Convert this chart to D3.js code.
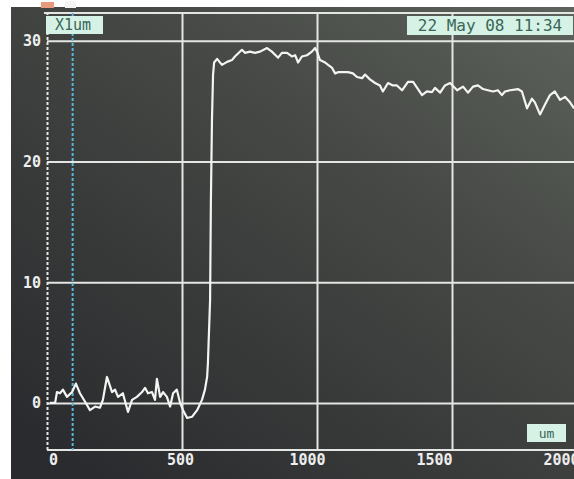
<!DOCTYPE html>
<html>
<head>
<meta charset="utf-8">
<script src="https://cdn.jsdelivr.net/npm/d3@7"></script>
<style>
  html, body { margin: 0; padding: 0; background: #ffffff; }
  svg { display: block; }
</style>
</head>
<body>
<svg id="chart" width="574" height="479"></svg>
<script>
// ---- data ----
const traceX = [11,30,37,48,59,74,93,107,122,141,159,178,196,207,222,241,252,263,281,300,315,333,352,363,374,389,400,407,419,430,444,456,467,481,493,504,519,537,556,574,585,593,596,604,607,611,615,619,630,648,667,685,696,722,733,752,770,789,815,833,856,870,889,907,919,930,944,963,981,993,1000,1011,1030,1041,1056,1067,1078,1096,1115,1133,1148,1167,1178,1196,1215,1233,1244,1263,1281,1296,1315,1337,1356,1389,1407,1426,1437,1456,1474,1493,1519,1541,1559,1578,1596,1615,1633,1652,1670,1685,1696,1715,1744,1759,1778,1796,1807,1826,1844,1863,1881,1900,1919,1937,1952];
const traceY = [0,0,0.9,0.8,1.1,0.5,0.9,1.6,0.8,0.1,-0.6,-0.3,-0.4,0.25,2.15,0.9,1.1,0.5,0.8,-0.75,0.25,0.5,0.9,1.25,0.8,0.9,0.25,2.0,0.5,0.9,0.5,-0.3,0.8,1.1,0,-0.6,-1.25,-1.15,-0.6,0.25,1.1,2.15,3.3,8.5,16.8,23.4,27.2,28.2,28.5,28.0,28.25,28.4,28.7,29.25,29.0,29.1,29.0,29.1,29.4,29.1,28.6,29.0,29.0,28.7,28.8,28.2,28.7,28.8,29.1,29.4,29.1,28.4,28.2,28.0,27.75,27.3,27.4,27.4,27.4,27.3,27.0,26.9,27.2,26.8,26.5,26.3,25.8,26.5,26.3,26.3,25.9,26.6,26.6,25.5,25.8,25.75,26.1,25.7,26.3,26.5,25.9,26.2,25.7,26.2,26.3,26.0,25.9,25.8,25.9,25.5,25.8,25.9,26.0,25.8,24.4,25.2,24.9,23.9,24.7,25.5,25.8,25.1,25.35,24.9,24.4];
const xTicks = [0, 500, 1000, 1500, 2000];
const yTicks = [0, 10, 20, 30];
const cursorX = 95;
const channelLabel = "X1um";
const dateLabel = "22 May 08 11:34";
const unitLabel = "um";

// ---- layout ----
const W = 574, H = 479;
const svg = d3.select("#chart");
const x = d3.scaleLinear().domain([0, 2000]).range([47, 587]);
const xl = d3.scaleLinear().domain([0, 2000]).range([53, 561]); // label positions (photo perspective)
const y = d3.scaleLinear().domain([-3.9, 32.3]).range([450, 13]);
const plotTop = y(32.3), plotBottom = y(-3.9);

// background (photo of a screen)
const defs = svg.append("defs");
const g = defs.append("linearGradient").attr("id", "bg")
  .attr("x1", "100%").attr("y1", "0%").attr("x2", "15%").attr("y2", "100%");
g.append("stop").attr("offset", "0%").attr("stop-color", "#5e635d");
g.append("stop").attr("offset", "35%").attr("stop-color", "#474a46");
g.append("stop").attr("offset", "100%").attr("stop-color", "#2a2b2e");

svg.append("rect").attr("width", W).attr("height", H).attr("fill", "#ffffff");
svg.append("rect").attr("x", 11).attr("y", 7).attr("width", W - 11).attr("height", H - 7).attr("fill", "url(#bg)");
// screen artefacts at top
svg.append("rect").attr("x", 41).attr("y", 2).attr("width", 13).attr("height", 6).attr("fill", "#e79a7c");
svg.append("rect").attr("x", 65).attr("y", 1).attr("width", 11).attr("height", 7).attr("fill", "#f4f4f4");

const gridColor = "#e4e6e4";

// top border
svg.append("line").attr("x1", 44).attr("x2", W).attr("y1", plotTop).attr("y2", plotTop)
  .attr("stroke", gridColor).attr("stroke-width", 2);

// y axis with gridlines
const yAxis = svg.append("g").attr("transform", `translate(${x(0)},0)`)
  .call(d3.axisLeft(y).tickValues(yTicks).tickSize(-(W - x(0))).tickPadding(6).tickFormat(d3.format("d")));
yAxis.select(".domain").remove();
yAxis.selectAll(".tick line").attr("stroke", gridColor).attr("stroke-width", 2);
yAxis.selectAll(".tick text")
  .attr("fill", "#eeeeee").attr("font-family", "DejaVu Sans Mono").attr("font-weight", "bold")
  .attr("font-size", 15);

// x axis with gridlines
const xAxis = svg.append("g").attr("transform", `translate(0,${plotBottom})`)
  .call(d3.axisBottom(x).tickValues(xTicks).tickSize(-(plotBottom - plotTop)).tickPadding(4).tickFormat(d3.format("d")));
xAxis.select(".domain").remove();
xAxis.selectAll(".tick line").attr("stroke", gridColor).attr("stroke-width", 2)
  .attr("stroke-dasharray", d => d === 0 ? "3,2" : null);
xAxis.selectAll(".tick text")
  .attr("x", d => xl(d) - x(d))
  .attr("fill", "#eeeeee").attr("font-family", "DejaVu Sans Mono").attr("font-weight", "bold")
  .attr("font-size", 15);
// bottom border
svg.append("line").attr("x1", x(0)).attr("x2", W).attr("y1", plotBottom).attr("y2", plotBottom)
  .attr("stroke", gridColor).attr("stroke-width", 2);

// cursor
svg.append("line").attr("x1", x(cursorX)).attr("x2", x(cursorX)).attr("y1", plotTop).attr("y2", plotBottom)
  .attr("stroke", "#5fb4dc").attr("stroke-width", 2).attr("stroke-dasharray", "3,2");

// trace
const pts = traceX.map((v, i) => [v, traceY[i]]);
svg.append("path").datum(pts)
  .attr("fill", "none").attr("stroke", "#f4f4f2").attr("stroke-width", 2.2).attr("stroke-linejoin", "round")
  .attr("d", d3.line().x(d => x(d[0])).y(d => y(d[1])));

// label boxes
function box(bx, by, bw, bh, text, size, anchor) {
  svg.append("rect").attr("x", bx).attr("y", by).attr("width", bw).attr("height", bh).attr("fill", "#d6f2e6");
  svg.append("text").attr("x", anchor === "middle" ? bx + bw / 2 : bx + 9).attr("y", by + bh / 2)
    .attr("dy", "0.36em").attr("text-anchor", anchor)
    .attr("font-family", "DejaVu Sans Mono").attr("font-size", size).attr("fill", "#3a6656").text(text);
}
box(46, 16, 57, 18, channelLabel, 15, "start");
box(407, 16, 166, 19, dateLabel, 16, "middle");
box(527, 424, 39, 18, unitLabel, 13, "middle");
</script>
</body>
</html>
